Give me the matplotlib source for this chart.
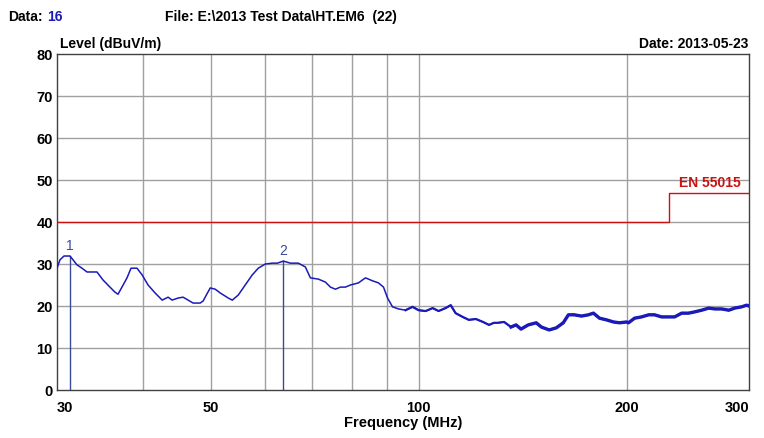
import matplotlib
matplotlib.use("Agg")
import matplotlib.pyplot as plt
from matplotlib.ticker import FixedLocator, NullLocator, NullFormatter

plt.rcParams['font.family'] = ['Liberation Sans', 'DejaVu Sans']

# ---- data ----
freq_mhz = [30.0, 30.30, 30.71, 31.32, 31.64, 32.06, 32.60, 33.15, 34.27, 34.96,
            35.78, 36.38, 36.75, 37.24, 37.87, 38.38, 39.15, 39.82, 40.62, 41.58,
            42.57, 43.42, 44.00, 44.89, 45.64, 46.41, 47.19, 48.30, 48.79, 49.12,
            49.95, 50.79, 51.64, 53.04, 53.75, 54.83, 56.12, 57.45, 58.61, 60.0,
            61.41, 62.45, 63.71, 65.21, 66.97, 68.55, 69.71, 71.58, 73.27, 74.51,
            75.76, 77.04, 78.33, 79.65, 81.80, 83.73, 85.71, 87.44, 88.91, 90.11,
            91.62, 93.47, 95.68, 97.94, 99.92, 102.3, 104.7, 106.8, 109.3, 111.2,
            113.0, 115.7, 118.1, 120.9, 123.8, 126.3, 128.4, 130.1, 132.8, 135.9,
            138.2, 140.5, 143.9, 147.8, 150.3, 154.3, 158.0, 161.7, 164.5, 167.8,
            171.8, 175.8, 178.8, 182.4, 186.7, 191.1, 195.0, 199.6, 200.9, 205.0,
            209.8, 214.8, 219.1, 224.3, 229.6, 234.2, 239.8, 245.4, 250.4, 256.3,
            262.4, 267.7, 274.0, 280.5, 286.1, 292.7, 297.7, 300.0]
level_dbuv = [29.0, 31.0, 31.9, 31.9, 31.0, 29.8, 29.0, 28.1, 28.1, 26.2,
              24.5, 23.3, 22.8, 24.5, 26.7, 29.0, 29.0, 27.4, 25.0, 23.1,
              21.4, 22.1, 21.4, 21.9, 22.1, 21.4, 20.7, 20.7, 21.2, 22.1,
              24.3, 24.0, 23.1, 21.9, 21.4, 22.6, 25.0, 27.4, 29.0, 30.0,
              30.2, 30.2, 30.7, 30.2, 30.2, 29.3, 26.7, 26.4, 25.7, 24.5,
              24.0, 24.5, 24.5, 25.0, 25.5, 26.7, 26.0, 25.5, 24.5, 21.9,
              19.8, 19.3, 19.0, 19.8, 19.0, 18.8, 19.5, 18.8, 19.5, 20.2,
              18.3, 17.4, 16.7, 16.9, 16.2, 15.5, 16.0, 16.0, 16.2, 15.0,
              15.5, 14.5, 15.5, 16.0, 15.0, 14.3, 14.8, 16.0, 17.9, 17.9,
              17.6, 17.9, 18.3, 17.1, 16.7, 16.2, 16.0, 16.2, 16.0, 17.1,
              17.4, 17.9, 17.9, 17.4, 17.4, 17.4, 18.3, 18.3, 18.6, 19.0,
              19.5, 19.3, 19.3, 19.0, 19.5, 19.8, 20.2, 20.0]

limit_freq = [30, 230, 230, 300]
limit_level = [40, 40, 47, 47]
limit_name = "EN 55015"

marker_labels = ["1", "2"]
marker_freq = [31.32, 63.71]
marker_level = [31.9, 30.7]

x_ticks = [30, 50, 100, 200, 300]
x_grid = [40, 50, 60, 70, 80, 90, 100, 200]
y_ticks = [0, 10, 20, 30, 40, 50, 60, 70, 80]

# ---- figure ----
fig = plt.figure(figsize=(7.64, 4.38), dpi=100)
ax = fig.add_axes([57/764, 1-390/438, 692/764, 336/438])

ax.set_xscale('log')
ax.set_xlim(30, 300)
ax.set_ylim(0, 80)

for g in x_grid:
    ax.axvline(g, color='#a0a0a0', lw=1.0, zorder=1)
for g in y_ticks[1:-1]:
    ax.axhline(g, color='#a0a0a0', lw=1.0, zorder=1)

ax.xaxis.set_major_locator(FixedLocator(x_ticks))
ax.xaxis.set_minor_locator(NullLocator())
ax.xaxis.set_minor_formatter(NullFormatter())
ax.set_xticklabels([str(t) for t in x_ticks])
ax.set_yticks(y_ticks)
ax.tick_params(axis='y', length=0, labelsize=10.5, pad=3)
ax.tick_params(axis='x', length=0, labelsize=10.5, pad=8)
for lab in ax.get_xticklabels() + ax.get_yticklabels():
    lab.set_fontweight('bold')
ax.get_xticklabels()[0].set_ha('left')
ax.get_xticklabels()[-1].set_ha('right')

for s in ax.spines.values():
    s.set_color('#404040')
    s.set_linewidth(1.0)

# limit line
ax.plot(limit_freq, limit_level, color='#cc1111', lw=1.0, zorder=3)
ax.text(292, 47.6, limit_name, color='#cc1111', fontsize=10, fontweight='bold',
        ha='right', va='bottom', zorder=4)

# trace
ax.plot(freq_mhz, level_dbuv, color='#1a1ab8', lw=1.1, zorder=4)
# the noisier upper band is drawn thicker
mid = [(f, v) for f, v in zip(freq_mhz, level_dbuv) if f >= 95]
ax.plot([p[0] for p in mid], [p[1] for p in mid], color='#1a1ab8', lw=1.6, zorder=4)
hf = [(f, v) for f, v in zip(freq_mhz, level_dbuv) if f >= 135]
ax.plot([p[0] for p in hf], [p[1] for p in hf], color='#1a1ab8', lw=2.4, zorder=4)

# markers
for lab, f, v in zip(marker_labels, marker_freq, marker_level):
    ax.plot([f, f], [0, v], color='#3a4a9a', lw=1.0, zorder=3)
    ax.text(f, v + 0.8, lab, color='#3a4a9a', fontsize=10, ha='center', va='bottom')

ax.set_xlabel("Frequency (MHz)", fontsize=10.5, fontweight='bold', labelpad=1)

# header texts
fig.text(8/764, 1-17/438, "Data:", fontsize=10, fontweight='bold', va='center', ha='left')
fig.text(47/764, 1-17/438, "16", fontsize=10, fontweight='bold', va='center', ha='left', color='#1a1ab8')
fig.text(165/764, 1-17/438, "File: E:\\2013 Test Data\\HT.EM6  (22)", fontsize=10,
         fontweight='bold', va='center', ha='left')
fig.text(60/764, 1-44/438, "Level (dBuV/m)", fontsize=10, fontweight='bold', va='center', ha='left')
fig.text(748/764, 1-44/438, "Date: 2013-05-23", fontsize=10, fontweight='bold', va='center', ha='right')

fig.savefig("out.png", dpi=100)
